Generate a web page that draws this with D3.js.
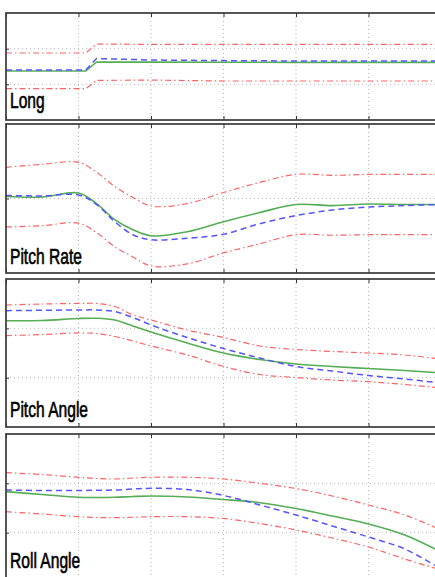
<!DOCTYPE html>
<html>
<head>
<meta charset="utf-8">
<script src="https://cdn.jsdelivr.net/npm/d3@7"></script>
<style>
  html, body { margin: 0; padding: 0; background: #fff; overflow: hidden; }
  svg { display: block; }
  .lbl { font-family: "Liberation Sans", Arial, sans-serif; font-size: 15.6px; fill: #000; stroke: #000; stroke-width: 0.45; }
  .grid line { stroke: #b8b8b8; stroke-width: 1; stroke-dasharray: 1 3; }
  .tick line { stroke: #333; stroke-width: 1; }
  .frame { fill: none; stroke: #3a3a3a; stroke-width: 1.7; }
</style>
</head>
<body>
<script>
// ---- data ----
const titles = ["Long", "Pitch Rate", "Pitch Angle", "Roll Angle"];
const timeTicks = [0, 1, 2, 3, 4, 5, 6];

// Long: short step near t = 1.1..1.25
const tLong = [0, 1.1, 1.25, 2, 3, 4, 5, 6];
const longUpper = [1.878, 1.878, 2.13, 2.12, 2.12, 2.12, 2.12, 2.12];
const longLower = [0.877, 0.877, 1.11, 1.12, 1.093, 1.093, 1.093, 1.093];
const longModel = [1.40, 1.40, 1.724, 1.682, 1.665, 1.654, 1.654, 1.654];
const longMeas  = [1.374, 1.374, 1.626, 1.622, 1.618, 1.617, 1.617, 1.617];

const tMain = [0, 0.5, 1, 1.25, 1.5, 1.75, 2, 2.5, 3, 3.5, 4, 4.5, 5, 5.5, 6];

const rateUpper = [0.419, 0.459, 0.486, 0.351, 0.162, 0.014, -0.101, -0.068, 0.081, 0.216, 0.324, 0.311, 0.324, 0.324, 0.324];
const rateLower = [-0.382, -0.365, -0.331, -0.459, -0.649, -0.784, -0.905, -0.878, -0.730, -0.608, -0.486, -0.493, -0.486, -0.486, -0.486];
const rateModel = [0.041, 0.034, 0.047, -0.081, -0.311, -0.486, -0.554, -0.534, -0.480, -0.338, -0.230, -0.155, -0.115, -0.095, -0.081];
const rateMeas  = [0.027, 0.020, 0.074, -0.068, -0.284, -0.419, -0.500, -0.446, -0.311, -0.189, -0.081, -0.095, -0.074, -0.081, -0.081];

const pitchUpper = [2.473, 2.493, 2.504, 2.504, 2.443, 2.271, 2.169, 1.966, 1.814, 1.642, 1.571, 1.531, 1.500, 1.460, 1.378];
const pitchLower = [1.851, 1.875, 1.906, 1.895, 1.835, 1.743, 1.642, 1.460, 1.226, 1.064, 1.003, 0.953, 0.918, 0.862, 0.791];
const pitchModel = [2.358, 2.366, 2.372, 2.372, 2.341, 2.220, 2.068, 1.814, 1.591, 1.399, 1.226, 1.135, 1.044, 0.973, 0.892];
const pitchMeas  = [2.155, 2.159, 2.199, 2.204, 2.169, 2.047, 1.926, 1.703, 1.500, 1.368, 1.277, 1.226, 1.186, 1.145, 1.095];

const rollUpper = [2.216, 2.179, 2.122, 2.098, 2.088, 2.108, 2.122, 2.122, 2.088, 2.001, 1.895, 1.743, 1.561, 1.358, 1.054];
const rollLower = [1.425, 1.378, 1.324, 1.308, 1.303, 1.312, 1.324, 1.324, 1.287, 1.186, 1.054, 0.892, 0.709, 0.466, 0.243];
const rollModel = [1.865, 1.855, 1.855, 1.859, 1.865, 1.885, 1.899, 1.875, 1.754, 1.561, 1.358, 1.135, 0.912, 0.669, 0.264];
const rollMeas  = [1.831, 1.774, 1.717, 1.713, 1.717, 1.733, 1.743, 1.723, 1.672, 1.608, 1.490, 1.338, 1.176, 0.953, 0.608];

const panelData = [
  { t: tLong, upper: longUpper,  lower: longLower,  model: longModel,  meas: longMeas,  domain: [0, 3],  ticks: [1, 2] },
  { t: tMain, upper: rateUpper,  lower: rateLower,  model: rateModel,  meas: rateMeas,  domain: [-1, 1], ticks: [0] },
  { t: tMain, upper: pitchUpper, lower: pitchLower, model: pitchModel, meas: pitchMeas, domain: [0, 3],  ticks: [1, 2] },
  { t: tMain, upper: rollUpper,  lower: rollLower,  model: rollModel,  meas: rollMeas,  domain: [0, 3],  ticks: [1, 2] },
];

// ---- layout ----
const W = 435, H = 577;
const panelBands = [[13, 120], [124, 273], [279, 427], [434, 582]];
const labelBase = [108, 264, 417, 568];

const svg = d3.select("body").append("svg").attr("width", W).attr("height", H);
const x = d3.scaleLinear().domain([0, 6]).range([6, 441]);

const styles = {
  upper: { stroke: "#ff6464", width: 1.2, dash: "6 3 1.5 3" },
  lower: { stroke: "#ff6464", width: 1.2, dash: "6 3 1.5 3" },
  meas:  { stroke: "#55ad55", width: 1.6, dash: null },
  model: { stroke: "#5555ff", width: 1.5, dash: "6 4" },
};

panelData.forEach((p, i) => {
  const [top, bot] = panelBands[i];
  const y = d3.scaleLinear().domain(p.domain).range([bot, top]);
  const g = svg.append("g");

  g.append("clipPath").attr("id", "clip" + i)
    .append("rect").attr("x", x(0)).attr("y", top).attr("width", x(6) - x(0)).attr("height", bot - top);

  // dotted grid
  const grid = g.append("g").attr("class", "grid");
  grid.selectAll("line.v").data(timeTicks.slice(1, -1)).join("line")
    .attr("x1", d => x(d)).attr("x2", d => x(d)).attr("y1", top).attr("y2", bot);
  grid.selectAll("line.h").data(p.ticks).join("line").attr("class", "h")
    .attr("x1", x(0)).attr("x2", x(6)).attr("y1", d => y(d)).attr("y2", d => y(d));

  // inward ticks, MATLAB style
  g.append("g").attr("class", "tick").attr("transform", `translate(0,${bot})`)
    .call(d3.axisTop(x).tickValues(timeTicks).tickSize(4).tickFormat(""))
    .call(a => a.select(".domain").remove());
  g.append("g").attr("class", "tick").attr("transform", `translate(0,${top})`)
    .call(d3.axisBottom(x).tickValues(timeTicks).tickSize(4).tickFormat(""))
    .call(a => a.select(".domain").remove());
  g.append("g").attr("class", "tick").attr("transform", `translate(${x(0)},0)`)
    .call(d3.axisRight(y).tickValues(p.ticks).tickSize(3).tickFormat(""))
    .call(a => a.select(".domain").remove());

  const plot = g.append("g").attr("clip-path", `url(#clip${i})`);
  const line = d3.line().x(d => x(d[0])).y(d => y(d[1]))
    .curve(i === 0 ? d3.curveLinear : d3.curveCatmullRom.alpha(0.5));

  ["meas", "model", "upper", "lower"].forEach(key => {
    const s = styles[key];
    plot.append("path")
      .datum(p.t.map((t, k) => [t, p[key][k]]))
      .attr("fill", "none")
      .attr("stroke", s.stroke)
      .attr("stroke-width", s.width)
      .attr("stroke-dasharray", s.dash)
      .attr("d", line);
  });

  g.append("rect").attr("class", "frame")
    .attr("x", x(0)).attr("y", top).attr("width", x(6) - x(0)).attr("height", bot - top);

  g.append("text").attr("class", "lbl")
    .attr("transform", `translate(10,${labelBase[i]}) scale(1,1.4)`)
    .text(titles[i]);
});
</script>
</body>
</html>
